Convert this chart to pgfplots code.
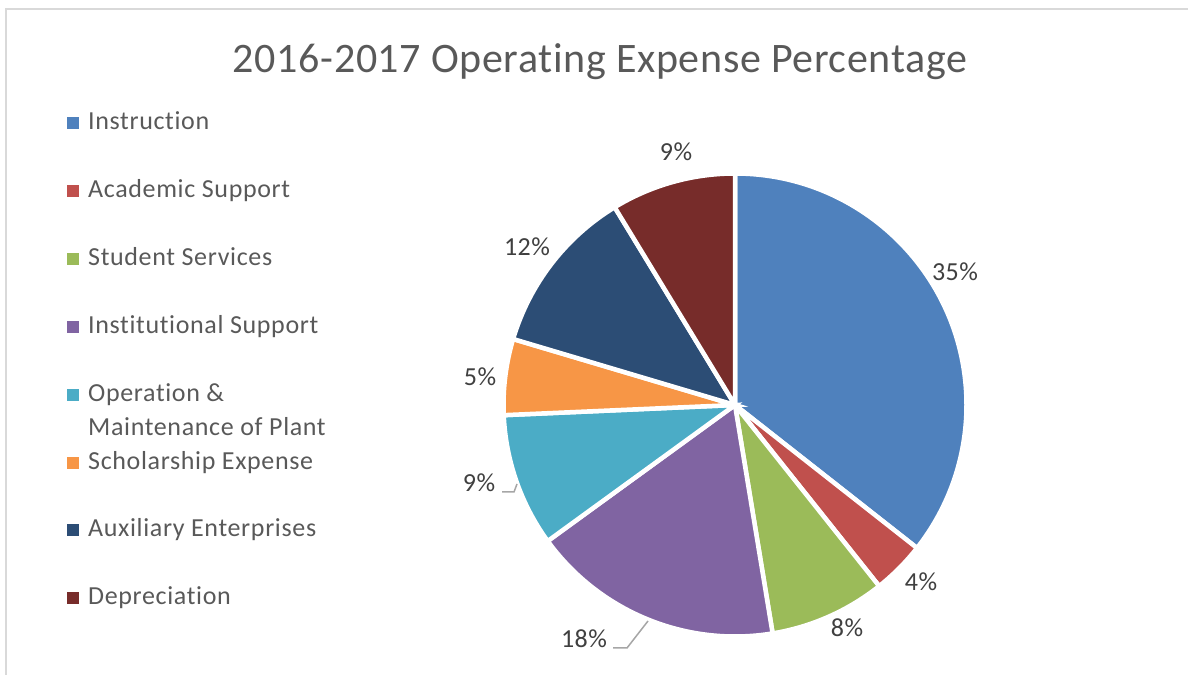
\documentclass[border=0pt]{standalone}
\usepackage{pgfplots}
\pgfplotsset{compat=1.18}
\usepackage{fontspec}
\setmainfont{Carlito}[Ligatures=NoCommon]
\newfontfamily\titlef{Carlito}[Ligatures=NoCommon, LetterSpace=1.5]
\newfontfamily\legf{Carlito}[Ligatures=NoCommon, LetterSpace=2.5]
\newfontfamily\lblf{Carlito}[Ligatures=NoCommon, LetterSpace=2.0]
\definecolor{c1}{HTML}{4F81BD}
\definecolor{c2}{HTML}{C0504D}
\definecolor{c3}{HTML}{9BBB59}
\definecolor{c4}{HTML}{8064A2}
\definecolor{c5}{HTML}{4BACC6}
\definecolor{c6}{HTML}{F79646}
\definecolor{c7}{HTML}{2C4D75}
\definecolor{c8}{HTML}{772C2A}
\definecolor{txt}{HTML}{595959}
\definecolor{lbl}{HTML}{404040}
\definecolor{frame}{HTML}{D9D9D9}
\definecolor{leader}{HTML}{A6A6A6}

\newcommand\cum{90}
% #1 colour, #2 value (percent)
\newcommand\slice[2]{%
  \pgfmathsetmacro\sa{\cum}%
  \pgfmathsetmacro\ea{\cum-3.6*#2}%
  \edef\tmp{\noexpand\fill[#1, draw=white, line width=4.5bp] (axis cs:735,-405) -- ++(\sa:231.5bp) arc[start angle=\sa, end angle=\ea, radius=231.5bp] -- cycle;}%
  \tmp
  \global\let\cum\ea
}
\newcommand\legtxt{\legf\fontsize{26bp}{31bp}\selectfont}
\newcommand\lbltxt{\lblf\fontsize{26bp}{30bp}\selectfont}

\begin{document}
\begin{tikzpicture}
\useasboundingbox (0,0) rectangle (1188bp,675bp);
\begin{axis}[
  scale only axis, width=1188bp, height=675bp,
  xmin=0, xmax=1188, ymin=-675, ymax=0,
  hide axis, clip=false]
% frame
\draw[frame, line width=2bp] (axis cs:6,-676) -- (axis cs:6,-9.5) -- (axis cs:1189,-9.5);
% title
\node[anchor=base, text=txt, font={\titlef\fontsize{42bp}{50bp}\selectfont}] at (axis cs:600,-73) {2016-2017 Operating Expense Percentage};
% pie slices (percent values)
\slice{c1}{35.6}
\slice{c2}{3.7}
\slice{c3}{8.1}
\slice{c4}{17.6}
\slice{c5}{9.3}
\slice{c6}{5.3}
\slice{c7}{11.7}
\slice{c8}{8.7}
% data labels
\node[anchor=base, text=lbl, font=\lbltxt] at (axis cs:955,-280.5) {35\%};
\node[anchor=base, text=lbl, font=\lbltxt] at (axis cs:921,-591) {4\%};
\node[anchor=base, text=lbl, font=\lbltxt] at (axis cs:847,-637) {8\%};
\node[anchor=base, text=lbl, font=\lbltxt] at (axis cs:584,-647) {18\%};
\node[anchor=base, text=lbl, font=\lbltxt] at (axis cs:479,-492) {9\%};
\node[anchor=base, text=lbl, font=\lbltxt] at (axis cs:480,-386) {5\%};
\node[anchor=base, text=lbl, font=\lbltxt] at (axis cs:527,-256) {12\%};
\node[anchor=base, text=lbl, font=\lbltxt] at (axis cs:676,-161) {9\%};
% leader lines
\draw[leader, line width=1.5bp] (axis cs:613,-648) -- (axis cs:627,-648) -- (axis cs:648,-621);
\draw[leader, line width=1.5bp] (axis cs:502,-492) -- (axis cs:514,-492) -- (axis cs:517,-484);
% legend
\fill[c1] (axis cs:67,-117) rectangle (axis cs:79,-129);
\node[anchor=base west, inner sep=0pt, text=txt, font=\legtxt] at (axis cs:88,-130) {Instruction};
\fill[c2] (axis cs:67,-185) rectangle (axis cs:79,-197);
\node[anchor=base west, inner sep=0pt, text=txt, font=\legtxt] at (axis cs:88,-198) {Academic Support};
\fill[c3] (axis cs:67,-253) rectangle (axis cs:79,-265);
\node[anchor=base west, inner sep=0pt, text=txt, font=\legtxt] at (axis cs:88,-266) {Student Services};
\fill[c4] (axis cs:67,-321) rectangle (axis cs:79,-333);
\node[anchor=base west, inner sep=0pt, text=txt, font=\legtxt] at (axis cs:88,-334) {Institutional Support};
\fill[c5] (axis cs:67,-389) rectangle (axis cs:79,-401);
\node[anchor=base west, inner sep=0pt, text=txt, font=\legtxt] at (axis cs:88,-402) {Operation \&};
\node[anchor=base west, inner sep=0pt, text=txt, font=\legtxt] at (axis cs:88,-436) {Maintenance of Plant};
\fill[c6] (axis cs:67,-457) rectangle (axis cs:79,-469);
\node[anchor=base west, inner sep=0pt, text=txt, font=\legtxt] at (axis cs:88,-470) {Scholarship Expense};
\fill[c7] (axis cs:67,-524) rectangle (axis cs:79,-536);
\node[anchor=base west, inner sep=0pt, text=txt, font=\legtxt] at (axis cs:88,-537) {Auxiliary Enterprises};
\fill[c8] (axis cs:67,-592) rectangle (axis cs:79,-604);
\node[anchor=base west, inner sep=0pt, text=txt, font=\legtxt] at (axis cs:88,-605) {Depreciation};
\end{axis}
\end{tikzpicture}
\end{document}
